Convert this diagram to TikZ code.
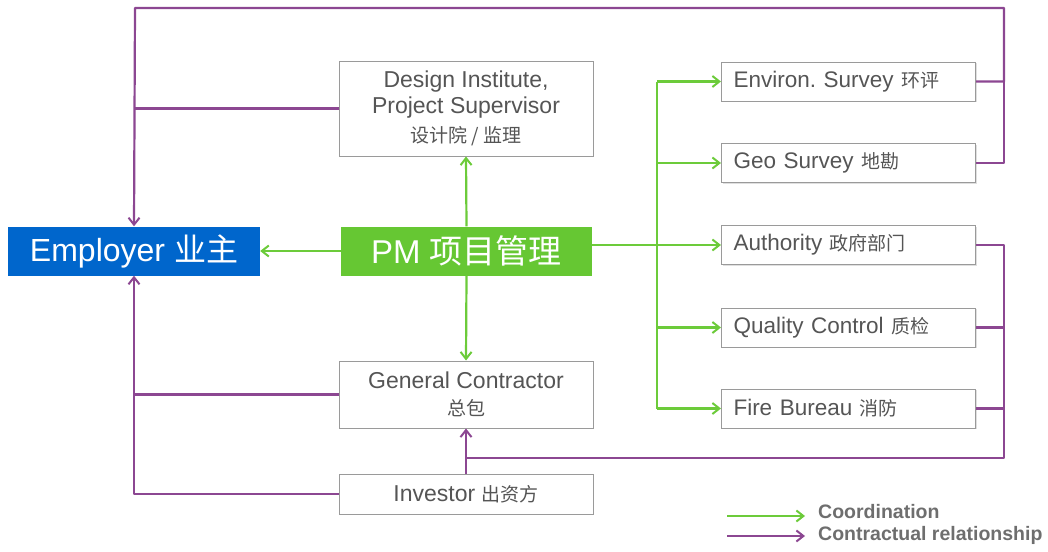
\documentclass[tikz,border=0pt]{standalone}
\usepackage{fontspec}
\setmainfont{Liberation Sans}
\newfontfamily\cjk{Noto Sans CJK SC}
\usetikzlibrary{arrows.meta,shadows}
\frenchspacing
\definecolor{gbox}{HTML}{66C733}
\definecolor{gline}{HTML}{6CCB3A}
\definecolor{pline}{HTML}{8C4792}
\definecolor{bbox}{HTML}{0066CC}
\definecolor{txt}{HTML}{555555}
\definecolor{bord}{HTML}{9A9A9A}
\begin{document}
\begin{tikzpicture}[x=1pt,y=-1pt,
  wbox/.style={draw=bord,line width=1pt,fill=white,inner sep=0pt,text=txt,align=center,
    drop shadow={shadow xshift=1pt,shadow yshift=-1.2pt,opacity=0.25}},
  rbox/.style={wbox,minimum width=254pt,minimum height=39pt,anchor=west,text width=230pt,align=left},
  cbox/.style={inner sep=0pt,text=white,minimum width=252pt,minimum height=49pt,
    font=\fontsize{32}{36}\selectfont},
  tip/.style={-{Straight Barb[length=7pt,width=11pt,line width=2pt]}},
  gl/.style={draw=gline,line width=2.2pt,line join=round},
  pl/.style={draw=pline,line width=2.2pt,line join=round},
  en/.style={font=\fontsize{22.5}{26}\selectfont},
  bt/.style={font=\fontsize{23}{26}\selectfont},
]
\useasboundingbox (0,0) rectangle (1048,551);
\newcommand{\zh}[1]{{\cjk\fontsize{19}{22}\selectfont #1}}

% central boxes
\node[cbox,fill=bbox] (emp) at (134,251) {Employer {\cjk 业主}};
\node[cbox,fill=gbox,minimum width=251pt,font=\fontsize{33}{36}\selectfont] (pm) at (466.5,251) {PM {\cjk 项目管理}};
\node[wbox,bt,minimum width=254pt,minimum height=95pt] (des) at (466,108.5)
  {Design Institute,\\Project Supervisor\\[3pt]\zh{设计院 / 监理}};
\node[wbox,bt,minimum width=254pt,minimum height=67pt] (gc) at (466,394.5)
  {General Contractor\\[1pt]\zh{总包}};
\node[wbox,bt,minimum width=254pt,minimum height=40pt] (inv) at (466,494)
  {Investor \zh{出资方}};

% right boxes
\node[rbox,en] (env) at (721,81.5) {Environ. Survey \zh{环评}};
\node[rbox,en] (geo) at (721,163) {Geo Survey \zh{地勘}};
\node[rbox,en] (auth) at (721,245) {Authority \zh{政府部门}};
\node[rbox,en] (qc) at (721,327.5) {Quality Control \zh{质检}};
\node[rbox,en] (fire) at (721,408.5) {Fire Bureau \zh{消防}};

% helper coordinates
\coordinate (tl) at (135,8);
\coordinate (tr) at (1004,8);
\coordinate (br) at (1004,458);
\coordinate (gx) at (657,245);

% contractual (purple)
\draw[pl,tip] (env.east) -| (tr) -- (tl) -- (emp.north);
\draw[pl] (geo.east) -| (tr);
\draw[pl] (des.west) -- (des.west -| tl);
\draw[pl,tip] (inv.west) -| (emp.south);
\draw[pl] (gc.west) -- (gc.west -| tl);
\draw[pl] (auth.east) -| (br) -- (br -| gc.south);
\draw[pl] (qc.east) -- (qc.east -| br);
\draw[pl] (fire.east) -- (fire.east -| br);
\draw[pl,tip] (inv.north) -- (gc.south);

% coordination (green)
\draw[gl,tip] (pm.west) -- (emp.east);
\draw[gl,tip] (pm.north) -- (des.south);
\draw[gl,tip] (pm.south) -- (gc.north);
\draw[gl,tip] (pm.east |- auth.west) -- (auth.west);
\draw[gl] (env.west -| gx) -- (fire.west -| gx);
\draw[gl,tip] (env.west -| gx) -- (env.west);
\draw[gl,tip] (geo.west -| gx) -- (geo.west);
\draw[gl,tip] (qc.west -| gx) -- (qc.west);
\draw[gl,tip] (fire.west -| gx) -- (fire.west);

% legend
\node[anchor=west,inner sep=0pt,text=txt!85,font=\bfseries\fontsize{19.5}{22}\selectfont] (lc) at (818,512) {Coordination};
\node[anchor=west,inner sep=0pt,text=txt!85,font=\bfseries\fontsize{19.5}{22}\selectfont] (lr) at (818,535) {Contractual relationship};
\coordinate (lg) at (727,516);
\coordinate (lp) at (727,536);
\draw[gl,tip] (lg) -- (lg -| 805,0);
\draw[pl,tip] (lp) -- (lp -| 805,0);
\end{tikzpicture}
\end{document}
